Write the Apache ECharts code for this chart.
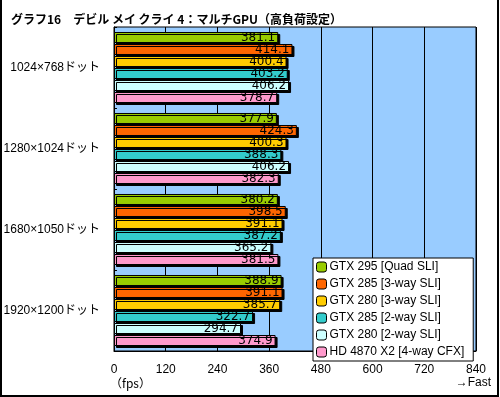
<!DOCTYPE html>
<html><head><meta charset="utf-8">
<script src="https://cdn.jsdelivr.net/npm/echarts@6/dist/echarts.min.js"></script>
<style>html,body{margin:0;padding:0;background:#fff}#c{width:500px;height:397px}</style>
</head><body><div id="c"></div>
<script>
const titleText = 'グラフ16　デビル メイ クライ 4：マルチGPU（高負荷設定）';
const categories = ['1024×768ドット', '1280×1024ドット', '1680×1050ドット', '1920×1200ドット'];
const seriesNames = ['GTX 295 [Quad SLI]', 'GTX 285 [3-way SLI]', 'GTX 280 [3-way SLI]', 'GTX 285 [2-way SLI]', 'GTX 280 [2-way SLI]', 'HD 4870 X2 [4-way CFX]'];
const gtx295quad = [381.1, 377.9, 380.2, 388.9];
const gtx285tri = [414.1, 424.3, 398.5, 391.1];
const gtx280tri = [400.4, 400.3, 391.1, 385.7];
const gtx285dual = [403.2, 388.3, 387.2, 322.7];
const gtx280dual = [406.2, 406.2, 365.2, 294.7];
const hd4870x2 = [378.7, 382.3, 381.5, 374.9];
const seriesValues = [gtx295quad, gtx285tri, gtx280tri, gtx285dual, gtx280dual, hd4870x2];
const colors = ['#99CC00', '#FF6600', '#FFCC00', '#33CCCC', '#CCFFFF', '#FF99CC'];
const xTicks = [0, 120, 240, 360, 480, 600, 720, 840];

const chart = echarts.init(document.getElementById('c'), null, {renderer: 'canvas'});
const font = '"Liberation Sans", "Noto Sans CJK JP", sans-serif';
chart.setOption({
  animation: false,
  backgroundColor: '#fff',
  title: {
    text: titleText, left: 6, top: 8,
    textStyle: {fontSize: 12, fontWeight: 'bold', color: '#000', fontFamily: '"Noto Sans CJK JP", sans-serif'}
  },
  grid: {left: 114, top: 27, right: 24, bottom: 46, show: true, backgroundColor: '#99CCFF', borderColor: '#000', borderWidth: 1},
  legend: {
    orient: 'vertical', left: 313, top: 258,
    backgroundColor: '#fff', borderColor: '#000', borderWidth: 1,
    padding: [3, 9, 3, 3], itemGap: 5, itemWidth: 10, itemHeight: 10,
    itemStyle: {borderColor: '#000', borderWidth: 1, shadowBlur: 0, shadowOffsetX: 0, shadowOffsetY: 0, shadowColor: 'transparent'},
    textStyle: {fontSize: 12, color: '#000', fontFamily: font, padding: [0, 0, 0, -2]},
    data: seriesNames
  },
  xAxis: {
    type: 'value', min: 0, max: 840, interval: 120,
    axisLine: {show: true, lineStyle: {color: '#000'}},
    axisTick: {show: true, inside: true, length: 4, lineStyle: {color: '#000'}},
    splitLine: {show: true, lineStyle: {color: '#000', width: 1}},
    axisLabel: {fontSize: 12, color: '#000', fontFamily: font, margin: 13,
      formatter: v => xTicks.includes(v) ? String(v) : ''}
  },
  yAxis: {
    type: 'category', data: categories, inverse: true,
    axisLine: {show: true, lineStyle: {color: '#000'}},
    axisTick: {show: true, inside: true, length: 3, lineStyle: {color: '#000'}},
    axisLabel: {fontSize: 12, color: '#000', fontFamily: font, margin: 14}
  },
  series: seriesNames.map((n, i) => ({
    name: n, type: 'bar', data: seriesValues[i],
    barWidth: 11, barGap: '9.1%',
    itemStyle: {color: colors[i], borderColor: '#000', borderWidth: 1, shadowColor: '#000', shadowBlur: 0, shadowOffsetX: 2, shadowOffsetY: 2},
    label: {show: true, position: 'insideRight', distance: 3, color: '#000', fontSize: 12,
      fontFamily: '"DejaVu Sans", sans-serif', textBorderWidth: 0, textBorderColor: 'transparent', textShadowBlur: 0,
      formatter: p => p.value.toFixed(1)}
  })),
  graphic: [
    {type: 'text', left: 110, top: 377, style: {text: '（fps）', fill: '#000', font: '12px "Noto Sans CJK JP", sans-serif'}},
    {type: 'text', right: 9, top: 377, style: {text: '→Fast', fill: '#000', font: '12px "Liberation Sans", "Noto Sans CJK JP", sans-serif'}},
    {type: 'rect', shape: {x: 1, y: -5, width: 497, height: 401}, style: {fill: 'none', stroke: '#000', lineWidth: 2}, silent: true}
  ]
});
</script></body></html>
